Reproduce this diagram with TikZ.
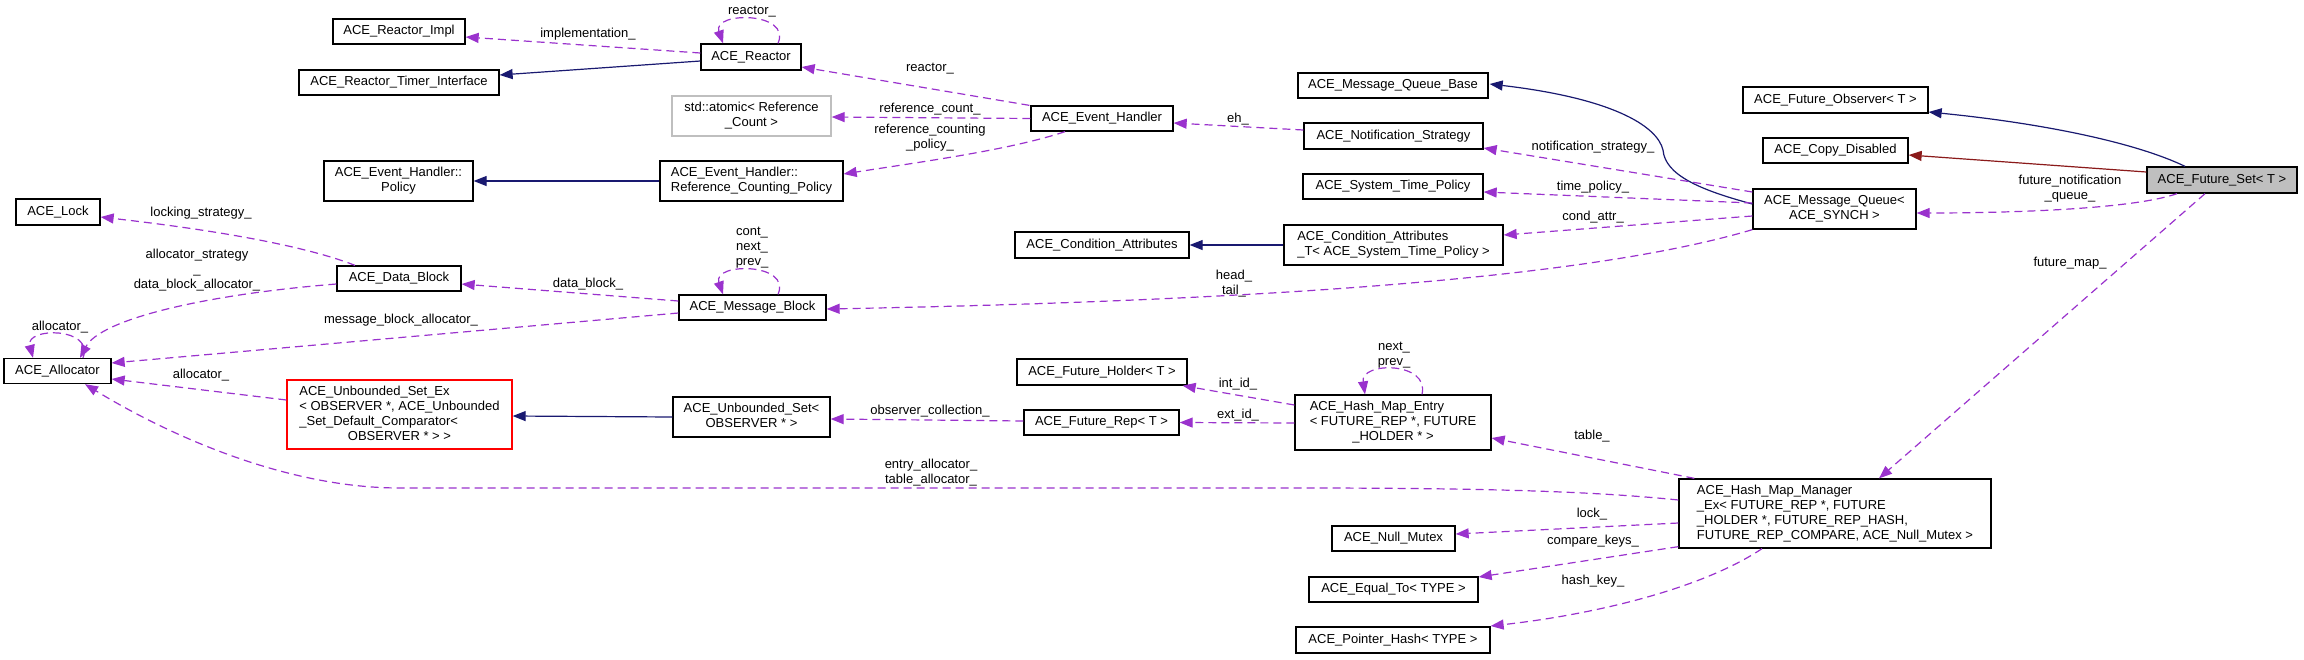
\documentclass[tikz,border=0pt]{standalone}
\usepackage{fontspec}
\setmainfont{Liberation Sans}
\usetikzlibrary{arrows.meta,calc}
\definecolor{usecol}{HTML}{9A32CD}
\definecolor{inhcol}{HTML}{191970}
\definecolor{privcol}{HTML}{8B1A1A}
\definecolor{greyfill}{HTML}{BFBFBF}
\newcommand\lastc[1]{\multicolumn{1}{@{}c@{}}{#1}}
\newcommand\dlbl[1]{\begin{tabular}{@{}l@{}}#1\end{tabular}}
\begin{document}
\begin{tikzpicture}[x=1pt,y=-1pt,
  every node/.style={font=\fontsize{13}{15}\selectfont, inner sep=0pt},
  box/.style={draw=black, line width=1.3pt, fill=white, rectangle},
  uses/.style={color=usecol, line width=1.2pt, dash pattern=on 8pt off 5pt, -{Triangle[length=13pt,width=10pt]}},
  inh/.style={color=inhcol, line width=1.2pt, -{Triangle[length=13pt,width=10pt]}},
  priv/.style={color=privcol, line width=1.2pt, -{Triangle[length=13pt,width=10pt]}},
  lbl/.style={align=center},
]
\useasboundingbox (0,0) rectangle (2304,659);

% ---------- nodes ----------
\node[box, minimum width=132pt, minimum height=25pt] (impl) at (399,31.5) {ACE\_Reactor\_Impl};
\node[box, minimum width=200pt, minimum height=25pt] (rti) at (399,82.5) {ACE\_Reactor\_Timer\_Interface};
\node[box, minimum width=100pt, minimum height=26pt] (reactor) at (751,57) {ACE\_Reactor};
\node[box, draw=greyfill, minimum width=159pt, minimum height=40pt] (atomic) at (751.5,116) {\dlbl{std::atomic< Reference\\\lastc{\_Count >}}};
\node[box, minimum width=149pt, minimum height=40pt] (policy) at (398.5,181) {\dlbl{ACE\_Event\_Handler::\\\lastc{Policy}}};
\node[box, minimum width=183pt, minimum height=40pt] (rcp) at (751.5,181) {\dlbl{ACE\_Event\_Handler::\\\lastc{Reference\_Counting\_Policy}}};
\node[box, minimum width=84pt, minimum height=26pt] (lock) at (58,212) {ACE\_Lock};
\node[box, minimum width=124pt, minimum height=25pt] (db) at (399,278.5) {ACE\_Data\_Block};
\node[box, minimum width=107pt, minimum height=25pt] (alloc) at (57.5,371) {ACE\_Allocator};
\node[box, draw=red, minimum width=225pt, minimum height=69pt] (use) at (399.5,414.5) {\dlbl{ACE\_Unbounded\_Set\_Ex\\< OBSERVER *, ACE\_Unbounded\\\_Set\_Default\_Comparator<\\\lastc{OBSERVER * > >}}};
\node[box, minimum width=147pt, minimum height=25pt] (mb) at (752.5,307.5) {ACE\_Message\_Block};
\node[box, minimum width=157pt, minimum height=40pt] (us) at (751.5,417) {\dlbl{ACE\_Unbounded\_Set<\\\lastc{OBSERVER * >}}};
\node[box, minimum width=142pt, minimum height=25pt] (eh) at (1102,118.5) {ACE\_Event\_Handler};
\node[box, minimum width=170pt, minimum height=26pt] (fh) at (1102,372) {ACE\_Future\_Holder< T >};
\node[box, minimum width=155pt, minimum height=25pt] (fr) at (1101.5,422.5) {ACE\_Future\_Rep< T >};
\node[box, minimum width=174pt, minimum height=26pt] (ca) at (1102,245) {ACE\_Condition\_Attributes};
\node[box, minimum width=190pt, minimum height=25pt] (mqb) at (1393,85.5) {ACE\_Message\_Queue\_Base};
\node[box, minimum width=179pt, minimum height=26pt] (ns) at (1393.5,136) {ACE\_Notification\_Strategy};
\node[box, minimum width=180pt, minimum height=25pt] (stp) at (1393,186.5) {ACE\_System\_Time\_Policy};
\node[box, minimum width=219pt, minimum height=40pt] (cat) at (1393.5,245) {\dlbl{ACE\_Condition\_Attributes\\\lastc{\_T< ACE\_System\_Time\_Policy >}}};
\node[box, minimum width=196pt, minimum height=55pt] (hme) at (1393,422.5) {\dlbl{ACE\_Hash\_Map\_Entry\\< FUTURE\_REP *, FUTURE\\\lastc{\_HOLDER * >}}};
\node[box, minimum width=123pt, minimum height=25pt] (nm) at (1393.5,538.5) {ACE\_Null\_Mutex};
\node[box, minimum width=169pt, minimum height=25pt] (et) at (1393.5,589.5) {ACE\_Equal\_To< TYPE >};
\node[box, minimum width=194pt, minimum height=26pt] (ph) at (1393,640) {ACE\_Pointer\_Hash< TYPE >};
\node[box, minimum width=185pt, minimum height=26pt] (fo) at (1835.5,100) {ACE\_Future\_Observer< T >};
\node[box, minimum width=145pt, minimum height=25pt] (cd) at (1835.5,150.5) {ACE\_Copy\_Disabled};
\node[box, minimum width=163pt, minimum height=40pt] (mq) at (1834.5,209) {\dlbl{ACE\_Message\_Queue<\\\lastc{ACE\_SYNCH >}}};
\node[box, fill=greyfill, minimum width=150pt, minimum height=26pt] (fs) at (2222,180) {ACE\_Future\_Set< T >};
\node[box, minimum width=312pt, minimum height=69pt] (hmm) at (1835,513.5) {\dlbl{ACE\_Hash\_Map\_Manager\\\_Ex< FUTURE\_REP *, FUTURE\\\_HOLDER *, FUTURE\_REP\_HASH,\\\lastc{FUTURE\_REP\_COMPARE, ACE\_Null\_Mutex >}}};

% ---------- inheritance edges ----------
\draw[inh] ($(reactor.west)+(0,4)$) -- ($(rti.east)+(0,-7.5)$);
\draw[inh] (rcp.west) -- (policy.east);
\draw[inh] (cat.west) -- (ca.east);
\draw[inh] (us.west) -- ($(use.east)+(0,1.5)$);
\draw[inh] ($(mq.west)+(0,-5)$) .. controls (1700,190) and (1665,175) .. (1663,150)
   .. controls (1657,125) and (1610,98) .. ($(mqb.east)+(1,-1.5)$);
\draw[inh] ($(fs.north)+(-37,0)$) .. controls (2130,140) and (2030,122) .. ($(fo.east)+(0,12)$);
\draw[priv] ($(fs.west)+(0,-8)$) -- ($(cd.east)+(0,4.5)$);

% ---------- usage edges ----------
\draw[uses] ($(reactor.west)+(0,-4)$) -- ($(impl.east)+(0,5.5)$);
\draw[uses] ($(reactor.north)+(27,0)$) .. controls +(14,-32) and +(-11,-32) .. ($(reactor.north)+(-28,0)$);
\draw[uses] ($(eh.north west)+(-1,0)$) -- ($(reactor.east)+(0,10)$);
\draw[uses] (eh.west) -- ($(atomic.east)+(0,1)$);
\draw[uses] ($(eh.south)+(-37,0)$) .. controls (1010,150) and (920,162) .. ($(rcp.east)+(0,-7)$);
\draw[uses] ($(ns.west)+(0,-6)$) -- ($(eh.east)+(0,4.5)$);
\draw[uses] ($(mq.west)+(0,-17)$) -- ($(ns.east)+(0,12)$);
\draw[uses] ($(mq.west)+(0,-6)$) -- ($(stp.east)+(0,5.5)$);
\draw[uses] ($(mq.west)+(0,7)$) -- ($(cat.east)+(0,-10)$);
\draw[uses] (mq.south west) .. controls (1600,275) and (1300,300) .. ($(mb.east)+(0,1.5)$);
\draw[uses] ($(mb.north)+(25.5,0)$) .. controls +(14,-32) and +(-11,-32) .. ($(mb.north)+(-29.5,0)$);
\draw[uses] ($(mb.west)+(0,-6.5)$) -- ($(db.east)+(0,5.5)$);
\draw[uses] ($(mb.west)+(0,5.5)$) -- ($(alloc.east)+(0,-8)$);
\draw[uses] ($(db.north)+(-44,0)$) .. controls (290,240) and (170,225) .. ($(lock.east)+(0,5)$);
\draw[uses] ($(db.west)+(0,5.5)$) .. controls (200,295) and (100,320) .. ($(alloc.north)+(22.5,0)$);
\draw[uses] ($(alloc.north)+(25.5,0)$) .. controls +(12,-31) and +(-8,-31) .. ($(alloc.north)+(-24.5,0)$);
\draw[uses] ($(use.west)+(0,-14.5)$) -- ($(alloc.east)+(0,8)$);
\draw[uses] ($(hmm.west)+(0,-13.5)$) .. controls (1600,492) and (1500,488) .. (1300,488) -- (400,488)
   .. controls (280,488) and (160,430) .. ($(alloc.south)+(27.5,0)$);
\draw[uses] ($(fr.west)+(0,-1.5)$) -- ($(us.east)+(0,2)$);
\draw[uses] ($(hme.west)+(0,-17.5)$) -- ($(fh.south east)+(-5,0)$);
\draw[uses] ($(hme.west)+(0,0.5)$) -- (fr.east);
\draw[uses] ($(hme.north)+(29,0)$) .. controls +(8,-33) and +(-5,-33) .. ($(hme.north)+(-28,0)$);
\draw[uses] ($(hmm.north west)+(16,0)$) -- ($(hme.east)+(0,15.5)$);
\draw[uses] ($(hmm.west)+(0,9.5)$) -- ($(nm.east)+(0,-4.5)$);
\draw[uses] ($(hmm.south west)+(0,-2)$) -- ($(et.east)+(0,-12.5)$);
\draw[uses] ($(hmm.south)+(-73,0)$) .. controls (1700,590) and (1590,615) .. ($(ph.east)+(0,-14)$);
\draw[uses] ($(fs.south)+(-45,0)$) .. controls (2130,210) and (2000,213) .. ($(mq.east)+(0,4)$);
\draw[uses] ($(fs.south)+(-17,0)$) -- ($(hmm.north)+(44,0)$);

% ---------- edge labels ----------
\node (lImpl) at (588,34) {implementation\_};
\node (lRloop) at (752,12) {reactor\_};
\node (lReactor) at (930,69) {reactor\_};
\node (lRefCount) at (930,109) {reference\_count\_};
\node[lbl] (lRefPol) at (930,138) {reference\_counting\\\_policy\_};
\node (lEh) at (1238,119) {eh\_};
\node (lNotif) at (1593,147) {notification\_strategy\_};
\node (lTime) at (1593,187) {time\_policy\_};
\node (lCond) at (1593,217) {cond\_attr\_};
\node[lbl] (lHead) at (1234,283.5) {head\_\\tail\_};
\node[lbl] (lMbLoop) at (752,248) {cont\_\\next\_\\prev\_};
\node (lDataBlock) at (588,284) {data\_block\_};
\node (lMbAlloc) at (401,320) {message\_block\_allocator\_};
\node (lLocking) at (201,213) {locking\_strategy\_};
\node[lbl] (lDbAlloc) at (197,270.5) {allocator\_strategy\\\_\\data\_block\_allocator\_};
\node (lAllocLoop) at (60,327) {allocator\_};
\node (lUseAlloc) at (201,375) {allocator\_};
\node[lbl] (lEntry) at (931,472.5) {entry\_allocator\_\\table\_allocator\_};
\node (lObs) at (930,411) {observer\_collection\_};
\node (lInt) at (1238,384) {int\_id\_};
\node (lExt) at (1238,415) {ext\_id\_};
\node[lbl] (lHmeLoop) at (1394,355.5) {next\_\\prev\_};
\node (lTable) at (1592,436) {table\_};
\node (lLock) at (1592,514) {lock\_};
\node (lCmp) at (1593,541) {compare\_keys\_};
\node (lHash) at (1593,581) {hash\_key\_};
\node[lbl] (lFutQ) at (2070,188.5) {future\_notification\\\_queue\_};
\node (lFutMap) at (2070,263) {future\_map\_};
\end{tikzpicture}
\end{document}
